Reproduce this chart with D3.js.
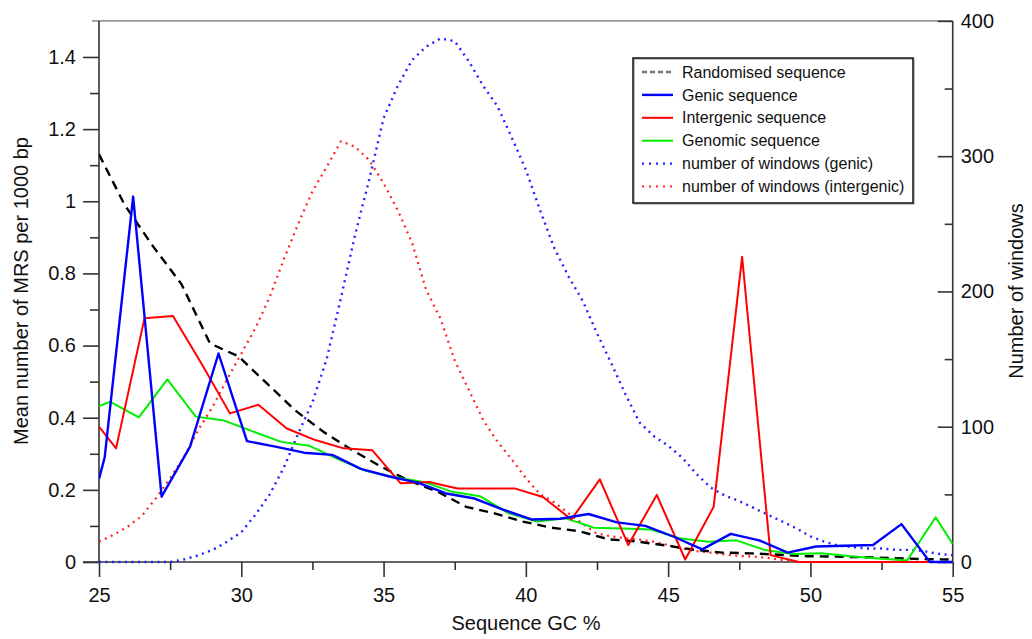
<!DOCTYPE html>
<html>
  <head>
    <meta charset="utf-8" />
    <title>MRS density vs GC</title>
    <script src="https://cdn.jsdelivr.net/npm/d3@7"></script>
    <style type="text/css">
      body {
        margin: 0;
        background: #fff;
      }
      svg text {
        font-family: "Liberation Sans", Arial, Helvetica, sans-serif;
        fill: #111;
      }
      .axis path.domain {
        display: none;
      }
      .axis line {
        stroke: #333;
        stroke-width: 1.6;
      }
      .axis text {
        font-size: 20px;
      }
      .series {
        fill: none;
        stroke-linejoin: round;
      }
      .legend text {
        font-size: 16px;
      }
    </style>
  </head>
  <body>
    <svg id="chart" width="1032" height="639"></svg>

    <script type="text/javascript">

    // --- data ---
    var randomisedGC = [25, 25.9, 26.9, 27.9, 28.9, 29.9, 30.9, 31.9, 32.9, 33.9, 34.9, 35.9, 36.9, 37.9, 38.9, 39.9,
                        40.9, 41.9, 42.9, 43.9, 44.9, 45.9, 46.9, 47.9, 48.9, 49.9, 50.9, 51.9, 52.9, 53.9, 54.9, 55];
    var randomisedMRS = [1.13, 0.99, 0.875, 0.77, 0.606, 0.57, 0.495, 0.42, 0.36, 0.31, 0.265, 0.225, 0.195, 0.153, 0.135, 0.112,
                         0.095, 0.085, 0.063, 0.057, 0.046, 0.034, 0.026, 0.024, 0.02, 0.016, 0.015, 0.013, 0.011, 0.008, 0.007, 0.007];

    var genicGC = [25, 25.2, 26.2, 27.2, 28.2, 29.2, 30.2, 31.2, 32.2, 33.2, 34.2, 35.2, 36.2, 37.2, 38.2, 39.2,
                   40.2, 41.2, 42.2, 43.2, 44.2, 45.2, 46.2, 47.2, 48.2, 49.2, 50.2, 51.2, 52.2, 53.2, 54.2, 55];
    var genicMRS = [0.23, 0.29, 1.013, 0.181, 0.32, 0.578, 0.335, 0.32, 0.303, 0.297, 0.258, 0.237, 0.22, 0.19, 0.176, 0.145,
                    0.118, 0.12, 0.133, 0.11, 0.1, 0.07, 0.035, 0.078, 0.06, 0.026, 0.043, 0.045, 0.047, 0.105, 0, 0];

    var intergenicGC = [25, 25.6, 26.6, 27.6, 28.6, 29.6, 30.6, 31.6, 32.6, 33.6, 34.6, 35.6, 36.6, 37.6, 38.6, 39.6,
                        40.6, 41.6, 42.6, 43.6, 44.6, 45.6, 46.6, 47.6, 48.6, 49.6, 50.6, 51.6, 52.6, 53.6, 54.6, 55];
    var intergenicMRS = [0.375, 0.315, 0.676, 0.682, 0.55, 0.412, 0.436, 0.37, 0.338, 0.315, 0.31, 0.218, 0.222, 0.204, 0.204, 0.204,
                         0.18, 0.118, 0.229, 0.047, 0.186, 0.007, 0.153, 0.846, 0.019, 0, 0, 0, 0, 0, 0, 0];

    var genomicGC = [25, 25.4, 26.4, 27.4, 28.4, 29.4, 30.4, 31.4, 32.4, 33.4, 34.4, 35.4, 36.4, 37.4, 38.4, 39.4,
                     40.4, 41.4, 42.4, 43.4, 44.4, 45.4, 46.4, 47.4, 48.4, 49.4, 50.4, 51.4, 52.4, 53.4, 54.4, 55];
    var genomicMRS = [0.432, 0.444, 0.401, 0.506, 0.403, 0.392, 0.362, 0.333, 0.322, 0.285, 0.252, 0.235, 0.222, 0.195, 0.182, 0.135,
                      0.112, 0.121, 0.095, 0.093, 0.09, 0.066, 0.056, 0.06, 0.033, 0.022, 0.024, 0.016, 0.01, 0.004, 0.124, 0.05];

    var windowsGC = [25, 25.5, 26, 26.5, 27, 27.5, 28, 28.5, 29, 29.5, 30, 30.5, 31, 31.5, 32, 32.5, 33, 33.5, 34, 34.5,
                     35, 35.5, 36, 36.5, 37, 37.5, 38, 38.5, 39, 39.5, 40, 40.5, 41, 41.5, 42, 42.5, 43, 43.5, 44, 44.5,
                     45, 45.5, 46, 46.5, 47, 47.5, 48, 48.5, 49, 49.5, 50, 50.5, 51, 51.5, 52, 52.5, 53, 53.5, 54, 54.5, 55];
    var windowsGenic = [0, 0, 0, 0, 0, 0, 2, 5, 9, 15, 22, 35, 50, 70, 95, 118, 150, 195, 242, 283,
                        328, 352, 371, 381, 387, 385, 370, 352, 337, 314, 290, 260, 232, 211, 193, 169, 147, 124, 103, 93,
                        86, 77, 65, 55, 49, 45, 40, 35, 30, 25, 19, 15, 12, 11, 10, 10, 9, 9, 8, 6, 5];
    var windowsIntergenic = [15, 20, 26, 34, 47, 62, 78, 98, 115, 135, 154, 173, 196, 224, 250, 274, 292, 311, 307, 297,
                             280, 260, 236, 201, 180, 149, 127, 105, 89, 76, 62, 50, 44, 36, 28, 21, 19, 17.5, 16.5, 15,
                             12.5, 10, 8, 7, 5.5, 4.5, 4, 3, 1.5, 0, 0, 0, 0, 0, 0, 0, 0, 0, 0, 0, 0];

    var leftTicks = [0, 0.2, 0.4, 0.6, 0.8, 1, 1.2, 1.4];
    var leftMinor = [0.1, 0.3, 0.5, 0.7, 0.9, 1.1, 1.3];
    var rightTicks = [0, 100, 200, 300, 400];
    var rightMinor = [50, 150, 250, 350];
    var xTicks = [25, 30, 35, 40, 45, 50, 55];
    var xMinor = [27.5, 32.5, 37.5, 42.5, 47.5, 52.5];

    // --- layout ---
    var plotLeft = 99, plotRight = 952.7, plotTop = 20.9, plotBottom = 562;

    var svg = d3.select('#chart');

    var x = d3.scaleLinear().domain([25, 55]).range([plotLeft, plotRight]),
        yL = d3.scaleLinear().domain([0, 1.5]).range([plotBottom, plotTop]),
        yR = d3.scaleLinear().domain([0, 400]).range([plotBottom, plotTop]);

    svg.append('clipPath').attr('id', 'plot-clip')
       .append('rect')
       .attr('x', plotLeft).attr('y', plotTop - 2)
       .attr('width', plotRight - plotLeft).attr('height', plotBottom - plotTop + 4);

    // frame lines
    svg.append('line').attr('x1', 92).attr('x2', plotRight).attr('y1', plotTop).attr('y2', plotTop)
       .attr('stroke', '#999').attr('stroke-width', 1.6);
    svg.append('line').attr('x1', plotLeft).attr('x2', plotLeft).attr('y1', plotTop).attr('y2', plotBottom)
       .attr('stroke', '#333').attr('stroke-width', 1.6);
    svg.append('line').attr('x1', 83).attr('x2', plotRight).attr('y1', plotBottom).attr('y2', plotBottom)
       .attr('stroke', '#333').attr('stroke-width', 1.6);
    svg.append('line').attr('x1', plotRight).attr('x2', plotRight).attr('y1', plotTop).attr('y2', plotBottom)
       .attr('stroke', '#333').attr('stroke-width', 1.6);

    // axes
    svg.append('g').attr('class', 'axis')
       .attr('transform', 'translate(' + plotLeft + ',0)')
       .call(d3.axisLeft(yL).tickValues(leftTicks).tickSize(16).tickPadding(7).tickFormat(d3.format('~g')));
    svg.append('g').attr('class', 'axis')
       .attr('transform', 'translate(' + plotLeft + ',0)')
       .call(d3.axisLeft(yL).tickValues(leftMinor).tickSize(9).tickFormat(''));

    svg.append('g').attr('class', 'axis')
       .attr('transform', 'translate(0,' + plotBottom + ')')
       .call(d3.axisBottom(x).tickValues(xTicks).tickSize(15).tickPadding(11).tickFormat(d3.format('d')));
    svg.append('g').attr('class', 'axis')
       .attr('transform', 'translate(0,' + plotBottom + ')')
       .call(d3.axisBottom(x).tickValues(xMinor).tickSize(8).tickFormat(''));

    svg.append('g').attr('class', 'axis')
       .attr('transform', 'translate(' + plotRight + ',0)')
       .call(d3.axisRight(yR).tickValues(rightTicks).tickSizeInner(-15).tickSizeOuter(0).tickPadding(8));
    svg.append('g').attr('class', 'axis')
       .attr('transform', 'translate(' + plotRight + ',0)')
       .call(d3.axisRight(yR).tickValues(rightMinor).tickSizeInner(-8).tickSizeOuter(0).tickFormat(''));

    // axis titles
    svg.append('text')
       .attr('x', 526).attr('y', 630)
       .attr('text-anchor', 'middle')
       .style('font-size', '20px')
       .text('Sequence GC %');
    svg.append('text')
       .attr('transform', 'translate(28,291) rotate(-90)')
       .attr('text-anchor', 'middle')
       .style('font-size', '20px')
       .text('Mean number of MRS per 1000 bp');
    svg.append('text')
       .attr('transform', 'translate(1023,291) rotate(-90)')
       .attr('text-anchor', 'middle')
       .style('font-size', '20px')
       .text('Number of windows');

    // series
    var series = [
      { name: 'Randomised sequence', gc: randomisedGC, v: randomisedMRS, y: yL, color: '#000', width: 2.4, dash: '9,6', legendColor: '#777' },
      { name: 'Genic sequence', gc: genicGC, v: genicMRS, y: yL, color: '#0000ff', width: 2.4, dash: null },
      { name: 'Intergenic sequence', gc: intergenicGC, v: intergenicMRS, y: yL, color: '#ff0000', width: 2, dash: null },
      { name: 'Genomic sequence', gc: genomicGC, v: genomicMRS, y: yL, color: '#00ee00', width: 2, dash: null },
      { name: 'number of windows (genic)', gc: windowsGC, v: windowsGenic, y: yR, color: '#2222ff', width: 2.4, dash: '2,4.5' },
      { name: 'number of windows (intergenic)', gc: windowsGC, v: windowsIntergenic, y: yR, color: '#ff2222', width: 2.2, dash: '2,4.5' }
    ];

    var plot = svg.append('g').attr('clip-path', 'url(#plot-clip)');

    // draw dotted first so the solid lines sit on top
    [4, 5, 0, 3, 2, 1].forEach(function(i) {
      var s = series[i];
      var line = d3.line()
                   .x(function(d, j) { return x(s.gc[j]); })
                   .y(function(d) { return s.y(d); });
      plot.append('path')
          .attr('class', 'series')
          .attr('d', line(s.v))
          .attr('stroke', s.color)
          .attr('stroke-width', s.width)
          .attr('stroke-dasharray', s.dash);
    });

    // legend
    var legend = svg.append('g').attr('class', 'legend');
    legend.append('rect')
          .attr('x', 634).attr('y', 59).attr('width', 280).attr('height', 145)
          .attr('fill', '#fff').attr('stroke', '#888').attr('stroke-width', 1);
    legend.append('rect')
          .attr('x', 633).attr('y', 58).attr('width', 280).attr('height', 145)
          .attr('fill', 'none').attr('stroke', '#111').attr('stroke-width', 1.5);

    var rows = legend.selectAll('g.row')
                     .data(series)
                     .enter()
                     .append('g')
                     .attr('class', 'row')
                     .attr('transform', function(d, i) { return 'translate(0,' + (72 + i * 22.9) + ')'; });
    rows.append('line')
        .attr('x1', 642).attr('x2', 673)
        .attr('stroke', function(d) { return d.legendColor || d.color; })
        .attr('stroke-width', function(d) { return d.width; })
        .attr('stroke-dasharray', function(d) { return d.dash === '9,6' ? '5,3' : (d.dash ? '2,5' : null); });
    rows.append('text')
        .attr('x', 682).attr('dy', '0.35em')
        .text(function(d) { return d.name; });

    </script>
  </body>
</html>
